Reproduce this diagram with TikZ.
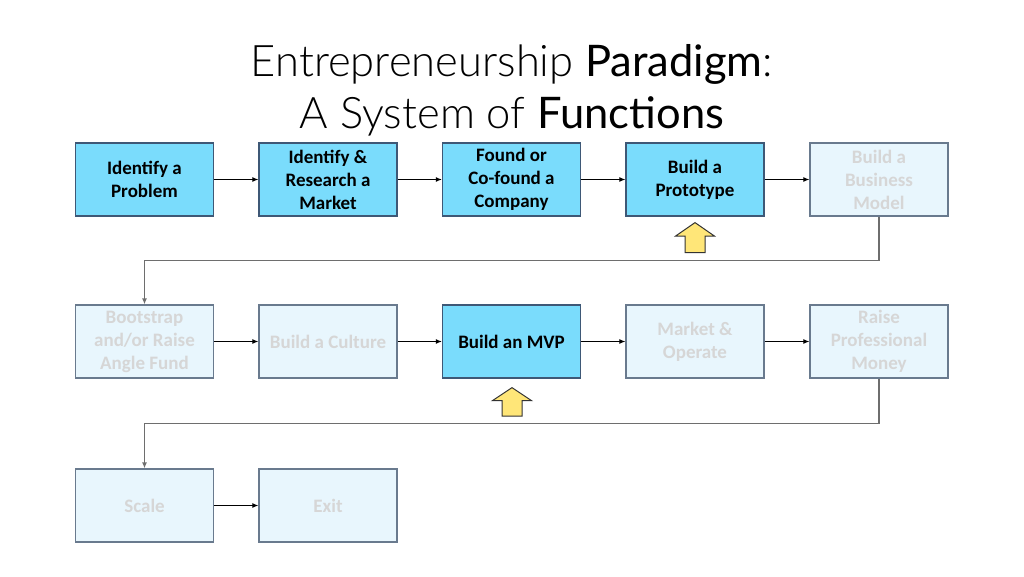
\documentclass[tikz,border=0pt]{standalone}
\usepackage{fontspec}
\setmainfont{Carlito}
\newfontfamily\titlefont{Lato}[UprightFont=* Light, BoldFont=* Regular]
\usetikzlibrary{arrows.meta,calc}
\definecolor{actfill}{RGB}{122,220,252}
\definecolor{actdraw}{RGB}{62,88,118}
\definecolor{fadefill}{RGB}{232,246,253}
\definecolor{fadedraw}{RGB}{105,122,142}
\definecolor{fadetext}{RGB}{214,214,214}
\definecolor{loopcol}{RGB}{110,110,110}
\definecolor{yfill}{RGB}{255,230,120}
\begin{document}
\begin{tikzpicture}[x=1pt,y=-1pt,
  box/.style={rectangle,minimum width=138pt,minimum height=73pt,inner sep=2pt,align=center,
    font=\fontsize{19}{23}\selectfont\bfseries,line width=1.2pt},
  act/.style={box,fill=actfill,draw=actdraw,text=black},
  fade/.style={box,fill=fadefill,draw=fadedraw,text=fadetext},
  link/.style={draw=black,line width=1.1pt,-{Latex[length=6pt,width=5pt]}},
  looplink/.style={draw=loopcol,line width=1.6pt,-{Latex[length=6pt,width=5pt]}},
  yarrow/.style={fill=yfill,draw=black!80,line width=1pt,line join=miter}
]
\useasboundingbox (0,0) rectangle (1024,576);
\fill[white] (0,0) rectangle (1024,576);

\node[align=center,font=\titlefont\fontsize{43.5}{52}\selectfont] (title) at (512,90)
  {Entrepreneurship \textbf{Paradigm}:\\A System of \textbf{Functions}};

% row 1
\node[act] (prob) at (144.5,179.5) {Identify a\\Problem};
\node[act] (mkt) at (328,179.5) {Identify \&\\Research a\\Market};
\node[act] (found) at (511.5,179.5) {Found or\\Co-found a\\Company};
\node[act] (proto) at (695,179.5) {Build a\\Prototype};
\node[fade] (bm) at (879,179.5) {Build a\\Business\\Model};
% row 2
\node[fade] (boot) at (144.5,341.5) {Bootstrap\\and/or Raise\\Angle Fund};
\node[fade] (cult) at (328,341.5) {Build a Culture};
\node[act] (mvp) at (511.5,341.5) {Build an MVP};
\node[fade] (mop) at (695,341.5) {Market \&\\Operate};
\node[fade] (raise) at (879,341.5) {Raise\\Professional\\Money};
% row 3
\node[fade] (scale) at (144.5,505.5) {Scale};
\node[fade] (exit) at (328,505.5) {Exit};

% horizontal links
\draw[link] (prob) -- (mkt);
\draw[link] (mkt) -- (found);
\draw[link] (found) -- (proto);
\draw[link] (proto) -- (bm);
\draw[link] (boot) -- (cult);
\draw[link] (cult) -- (mvp);
\draw[link] (mvp) -- (mop);
\draw[link] (mop) -- (raise);
\draw[link] (scale) -- (exit);

% loop links
\draw[looplink] (bm.south) -- ++(0,44) -| (boot.north);
\draw[looplink] (raise.south) -- ++(0,45) -| (scale.north);

% yellow arrows
\draw[yarrow] ($(proto.south)+(0,6)$) -- ++(19.5,13.5) -- ++(-9.5,0) -- ++(0,16.5) -- ++(-20,0) -- ++(0,-16.5) -- ++(-9.5,0) -- cycle;
\draw[yarrow] ($(mvp.south)+(0.5,9)$) -- ++(19.5,13) -- ++(-9.5,0) -- ++(0,15.5) -- ++(-20,0) -- ++(0,-15.5) -- ++(-9.5,0) -- cycle;
\end{tikzpicture}
\end{document}
